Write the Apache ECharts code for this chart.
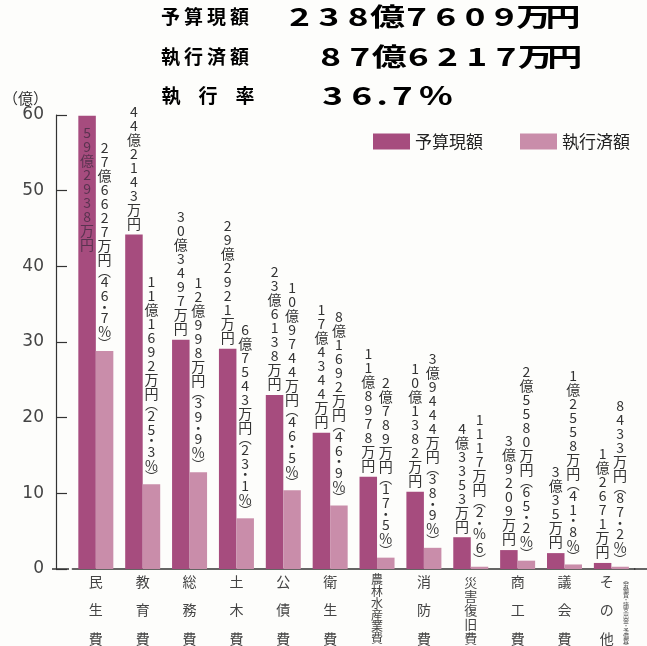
<!DOCTYPE html>
<html>
<head>
<meta charset="utf-8">
<script src="https://cdn.jsdelivr.net/npm/echarts@6/dist/echarts.min.js"></script>
<style>
  html, body { margin: 0; padding: 0; background: #fdfdfb; }
  #chart { width: 647px; height: 646px; }
</style>
</head>
<body>
<div id="chart"></div>
<script>
// data (億円)
const categories = ['民生費', '教育費', '総務費', '土木費', '公債費', '衛生費', '農林水産業費', '消防費', '災害復旧費', '商工費', '議会費', 'その他'];
const budget = [59.9, 44.2, 30.3, 29.1, 23.0, 18.0, 12.2, 10.2, 4.2, 2.5, 2.1, 0.8];
const executed = [28.8, 11.2, 12.8, 6.7, 10.4, 8.4, 1.5, 2.8, 0.3, 1.1, 0.6, 0.3];
const budgetLabels = ['59億2938万円', '44億2143万円', '30億3497万円', '29億2921万円', '23億6138万円', '17億4344万円', '11億8978万円', '10億1382万円', '4億3353万円', '3億9209万円', '3億35万円', '1億2671万円'];
const executedLabels = ['27億6627万円(46・7%)', '11億1692万円(25・3%)', '12億998万円(39・9%)', '6億7543万円(23・1%)', '10億9744万円(46・5%)', '8億1692万円(46・9%)', '2億789万円(17・5%)', '3億9444万円(38・9%)', '1117万円(2・%6)', '2億5580万円(65・2%)', '1億2558万円(41・8%)', '8433万円(87・2%)'];
const seriesNames = ['予算現額', '執行済額'];
const yTicks = { min: 0, max: 60, interval: 10 };
const headerRows = [
  ['予算現額', '238億7609万円'],
  ['執行済額', '87億6217万円'],
  ['執行率', '36.7%']
];
const otherNote = '(労働費・諸支出金・予備費)';

const FONT = '"Noto Sans CJK JP", "Noto Sans CJK SC", sans-serif';
const DARK = '#a64c7e';
const LIGHT = '#c98daa';
const ACCENT = '#a3417c';

const chart = echarts.init(document.getElementById('chart'));

const punct = { '(': '︵', ')': '︶', '・': '・' };

function vertical(s) {
  return s.split('').map((ch) => {
    if (punct[ch]) return '{p|' + punct[ch] + '}';
    return '{d|' + ch + '}';
  }).join('\n');
}

function labelRich(color) {
  return {
    d: { fontFamily: FONT, fontSize: 14, lineHeight: 14, color: color, align: 'center' },
    p: { fontFamily: FONT, fontSize: 13, lineHeight: 8, color: color, align: 'center' }
  };
}

function xLabel(name) {
  const chars = name.split('');
  if (name === '農林水産業費') return '{sp| }\n' + chars.map((c) => '{b|' + c + '}').join('\n');
  if (name === '災害復旧費') return '{sp2| }\n' + chars.map((c) => '{c|' + c + '}').join('\n');
  if (name === 'その他') return chars.map((c) => '{o|' + c + '}').join('\n');
  return chars.map((c) => '{a|' + c + '}').join('\n');
}

function spaced(str, style) {
  return str.split('').map((c) => {
    let s = style;
    if (c === '.') s = style + 'dot';
    if (c === '%') s = style + 'pct';
    return '{' + s + '|' + c + '}';
  }).join('');
}

const numStyle = { align: 'center', fontFamily: FONT, fontSize: 25, fontWeight: 'bold', color: ACCENT };
const numRich = {
  n: Object.assign({ width: 20.9 }, numStyle),
  ndot: Object.assign({ width: 8 }, numStyle),
  npct: Object.assign({ width: 27 }, numStyle)
};
const headRich = {
  h: { width: 23, align: 'center', fontFamily: FONT, fontSize: 19, fontWeight: 'bold', color: '#222' },
  w: { width: 37, align: 'center', fontFamily: FONT, fontSize: 19, fontWeight: 'bold', color: '#222' }
};

const rowY = [16.5, 56.5, 95.5];
const numX = [285, 316, 318];
const graphic = [];
headerRows.forEach((row, i) => {
  graphic.push({
    type: 'text', x: i === 2 ? 152.5 : 159, y: rowY[i],
    style: { text: spaced(row[0], i === 2 ? 'w' : 'h'), rich: headRich, verticalAlign: 'middle' }
  });
  graphic.push({
    type: 'text', x: numX[i], y: rowY[i], scaleX: 1.4,
    style: { text: spaced(row[1], 'n'), rich: numRich, verticalAlign: 'middle' }
  });
});
// x axis line runs past the category band on both sides
graphic.push({ type: 'line', shape: { x1: 52, y1: 569, x2: 69, y2: 569 }, style: { stroke: '#333', lineWidth: 1.5 } });
graphic.push({ type: 'line', shape: { x1: 634, y1: 569, x2: 647, y2: 569 }, style: { stroke: '#333', lineWidth: 1.5 } });
graphic.push({
  type: 'text', x: 626, y: 577,
  style: {
    text: otherNote.split('').map((c) => punct[c] || c).join('\n'),
    fontFamily: FONT, fontSize: 6, lineHeight: 5.1, fill: '#555', align: 'center'
  }
});

chart.setOption({
  backgroundColor: '#fdfdfb',
  animation: false,
  textStyle: { fontFamily: FONT },
  grid: { left: 68.4, right: 12.2, top: 115, bottom: 77 },
  legend: {
    left: 368, top: 128,
    itemWidth: 37, itemHeight: 16, itemGap: 37,
    icon: 'rect',
    textStyle: { fontSize: 17, color: '#222', fontFamily: FONT },
    data: seriesNames
  },
  xAxis: {
    type: 'category',
    data: categories,
    axisTick: { show: false },
    axisLine: { lineStyle: { color: '#333', width: 1.5 } },
    axisLabel: {
      interval: 0,
      margin: -2,
      formatter: xLabel,
      rich: {
        a: { fontFamily: FONT, fontSize: 14, lineHeight: 28.5, color: '#444' },
        o: { fontFamily: FONT, fontSize: 14, lineHeight: 28.5, color: '#444', padding: [0, 9, 0, 0] },
        b: { fontFamily: FONT, fontSize: 12, lineHeight: 11.7, color: '#444' },
        c: { fontFamily: FONT, fontSize: 13, lineHeight: 14, color: '#444' },
        sp: { fontSize: 6, lineHeight: 7 },
        sp2: { fontSize: 6, lineHeight: 8 }
      }
    }
  },
  yAxis: {
    type: 'value',
    min: yTicks.min, max: yTicks.max, interval: yTicks.interval,
    offset: 16.4,
    name: '（億）',
    nameLocation: 'end',
    nameGap: 17,
    nameTextStyle: { fontFamily: FONT, fontSize: 15, color: '#333', align: 'right', verticalAlign: 'middle', padding: [0, 8, 0, 0] },
    axisLine: { show: true, lineStyle: { color: '#333', width: 1.2 } },
    axisTick: { show: true, inside: true, length: 11, lineStyle: { color: '#333', width: 1.2 } },
    axisLabel: { margin: 12, fontSize: 17, color: '#444', fontFamily: 'DejaVu Sans' },
    splitLine: { show: false }
  },
  series: [
    {
      name: seriesNames[0],
      type: 'bar',
      barWidth: 17.5,
      barGap: '0%',
      itemStyle: { color: DARK },
      data: budget.map((v, i) => i === 0
        ? { value: v, label: { position: 'insideTop', distance: 10, rich: labelRich('#5a3350') } }
        : v),
      label: {
        show: true,
        position: 'top',
        distance: 4,
        formatter: (p) => vertical(budgetLabels[p.dataIndex]),
        rich: labelRich('#333')
      }
    },
    {
      name: seriesNames[1],
      type: 'bar',
      barWidth: 17.5,
      barGap: '0%',
      itemStyle: { color: LIGHT },
      data: executed,
      label: {
        show: true,
        position: 'top',
        distance: 4,
        formatter: (p) => vertical(executedLabels[p.dataIndex]),
        rich: labelRich('#333')
      }
    }
  ],
  graphic: graphic
});
</script>
</body>
</html>
